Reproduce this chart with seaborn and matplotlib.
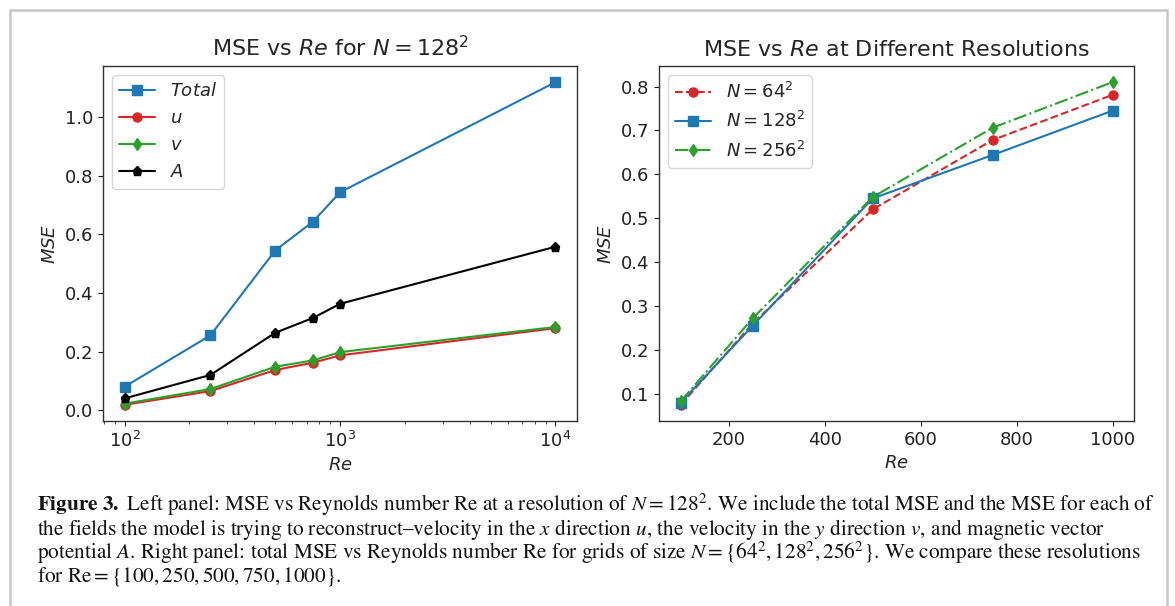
import numpy as np
import pandas as pd
import matplotlib
matplotlib.use("Agg")
import matplotlib.pyplot as plt
import seaborn as sns
from matplotlib.patches import Rectangle

# ---- data ----
re_left = [100, 250, 500, 750, 1000, 10000]
mse_total = [0.080, 0.255, 0.545, 0.644, 0.744, 1.120]
mse_u = [0.018, 0.065, 0.137, 0.162, 0.187, 0.280]
mse_v = [0.022, 0.072, 0.148, 0.170, 0.198, 0.284]
mse_A = [0.040, 0.120, 0.264, 0.315, 0.363, 0.558]

re_right = [100, 250, 500, 750, 1000]
mse_64 = [0.075, 0.260, 0.520, 0.678, 0.781]
mse_128 = [0.080, 0.255, 0.545, 0.644, 0.745]
mse_256 = [0.083, 0.272, 0.548, 0.706, 0.810]

left_labels = [r"$Total$", r"$u$", r"$v$", r"$A$"]
right_labels = [r"$N = 64^2$", r"$N = 128^2$", r"$N = 256^2$"]

sns.set_style("ticks")
plt.rcParams["font.family"] = ["DejaVu Sans"]
plt.rcParams["mathtext.fontset"] = "dejavusans"
plt.rcParams["axes.edgecolor"] = "#333333"
plt.rcParams["xtick.color"] = "#222222"
plt.rcParams["ytick.color"] = "#222222"

fig = plt.figure(figsize=(11.75, 6.06), dpi=100)
fig.patch.set_facecolor("white")

axL = fig.add_axes([0.0877, 0.3053, 0.4034, 0.5858])
axR = fig.add_axes([0.5609, 0.3053, 0.4043, 0.5858])

TICK_FS = 13
LAB_FS = 13
TITLE_FS = 16
LEG_FS = 13

# ---- left panel ----
left_series = [mse_total, mse_u, mse_v, mse_A]
left_colors = ["tab:blue", "tab:red", "tab:green", "black"]
left_markers = ["s", "o", "d", "p"]
for vals, lab, col, mk in zip(left_series, left_labels, left_colors, left_markers):
    df = pd.DataFrame({"Re": re_left, "MSE": vals})
    sns.lineplot(data=df, x="Re", y="MSE", ax=axL, color=col, marker=mk,
                 markersize=6.5, markeredgecolor=col, markeredgewidth=1,
                 linewidth=1.5, label=lab)
axL.set_xscale("log")
axL.set_yticks([0.0, 0.2, 0.4, 0.6, 0.8, 1.0])
axL.set_title(r"MSE vs $Re$ for $N = 128^2$", fontsize=TITLE_FS, pad=7)
axL.set_xlabel(r"$Re$", fontsize=LAB_FS)
axL.set_ylabel(r"$MSE$", fontsize=LAB_FS)
axL.tick_params(labelsize=TICK_FS)
axL.legend(loc="upper left", fontsize=LEG_FS, handlelength=2.0)

# ---- right panel ----
right_series = [mse_64, mse_128, mse_256]
right_colors = ["tab:red", "tab:blue", "tab:green"]
right_markers = ["o", "s", "d"]
right_styles = ["--", "-", "-."]
for vals, lab, col, mk, ls in zip(right_series, right_labels, right_colors,
                                  right_markers, right_styles):
    df = pd.DataFrame({"Re": re_right, "MSE": vals})
    sns.lineplot(data=df, x="Re", y="MSE", ax=axR, color=col, marker=mk,
                 markersize=6.5, markeredgecolor=col, markeredgewidth=1,
                 linewidth=1.5, linestyle=ls, label=lab)
axR.set_xticks([200, 400, 600, 800, 1000])
axR.set_yticks([0.1, 0.2, 0.3, 0.4, 0.5, 0.6, 0.7, 0.8])
axR.set_title(r"MSE vs $Re$ at Different Resolutions", fontsize=TITLE_FS, pad=7)
axR.set_xlabel(r"$Re$", fontsize=LAB_FS)
axR.set_ylabel(r"$MSE$", fontsize=LAB_FS)
axR.tick_params(labelsize=TICK_FS)
axR.legend(loc="upper left", fontsize=LEG_FS, handlelength=2.0)

for ax in (axL, axR):
    for s in ax.spines.values():
        s.set_linewidth(1.0)

# ---- outer border ----
fig.patches.append(Rectangle((10 / 1175, -0.05), 1157 / 1175, 1.05 - 10 / 606,
                             transform=fig.transFigure, fill=False,
                             edgecolor="#c8c8c8", linewidth=1.8))

# ---- caption ----
cap_lines = [
    r"$\mathbf{Figure\ 3.}$ Left panel: MSE vs Reynolds number Re at a resolution of $N = 128^2$. We include the total MSE and the MSE for each of",
    r"the fields the model is trying to reconstruct–velocity in the $x$ direction $u$, the velocity in the $y$ direction $v$, and magnetic vector",
    r"potential $A$. Right panel: total MSE vs Reynolds number Re for grids of size $N = \{64^2, 128^2, 256^2\}$. We compare these resolutions",
    r"for $\mathrm{Re} = \{100, 250, 500, 750, 1000\}$.",
]
cap_y = [505, 529, 553, 577]
for line, yy in zip(cap_lines, cap_y):
    fig.text(37 / 1175, 1 - yy / 606, line, fontsize=15.3, family="STIXGeneral",
             math_fontfamily="stix", va="center", ha="left", color="#111111")

fig.savefig("out.png", dpi=100, facecolor="white")
